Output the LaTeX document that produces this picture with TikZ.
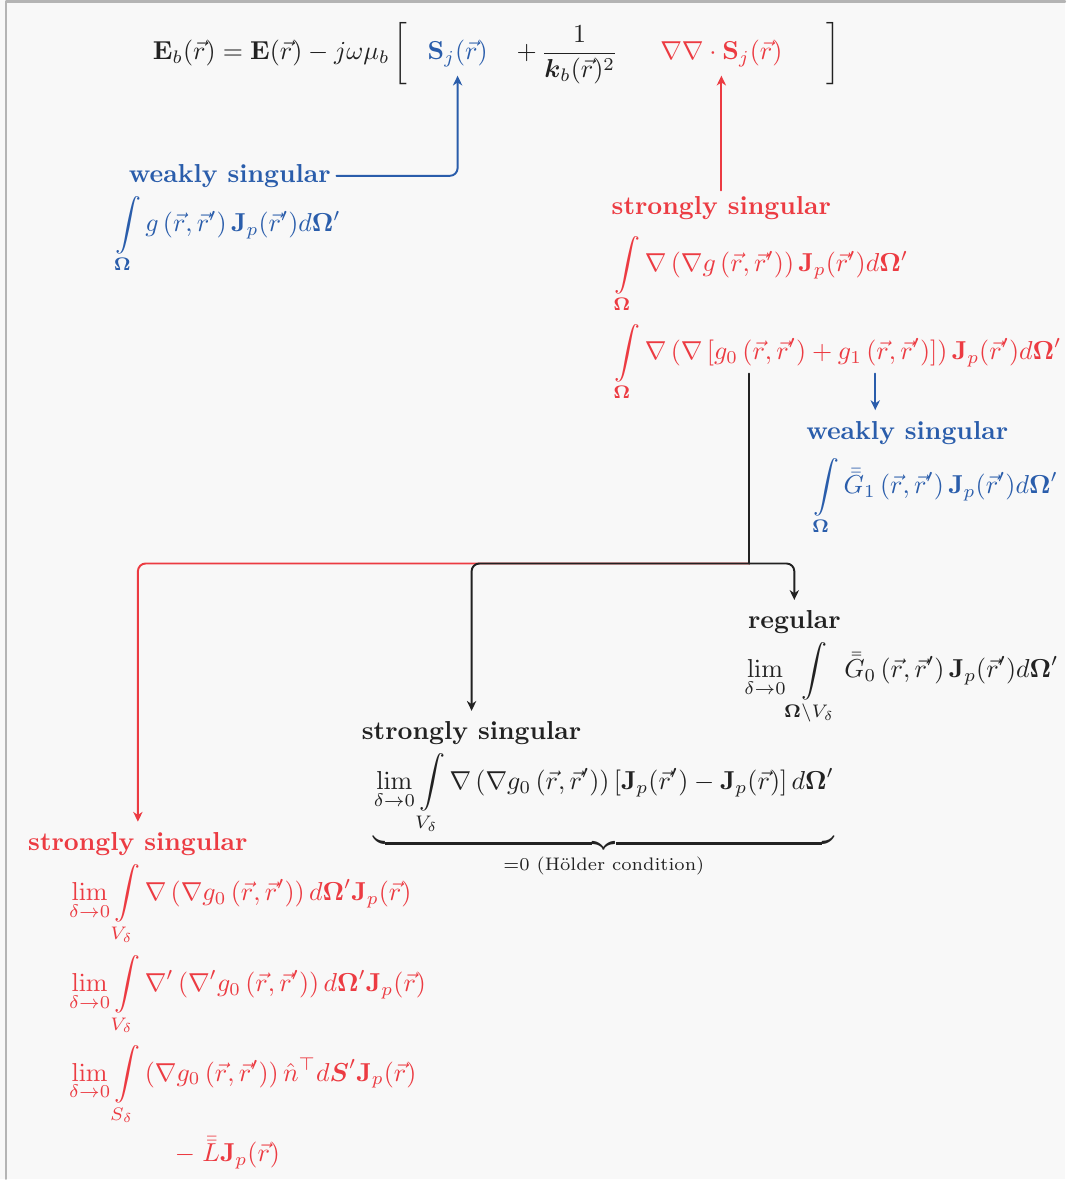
\documentclass[tikz,border=0pt]{standalone}
\usepackage{amsmath,amssymb}
\usepackage{xcolor}
\usepackage{tikz}
\usetikzlibrary{arrows.meta,positioning}
\definecolor{ieBlue}{HTML}{2A5DAB}
\definecolor{ieRed}{HTML}{EC3B42}
\definecolor{ieInk}{HTML}{222222}
\definecolor{iePaper}{HTML}{F8F8F8}
\definecolor{ieFrame}{HTML}{B4B4B4}
\tikzset{
  ie diagram/.style={x=0.385pt, y=-0.385pt, text=ieInk,
    line cap=round, line join=round},
  ie head/.style={font=\bfseries, inner sep=2pt},
  ie math/.style={anchor=base west, inner sep=1pt},
  ie term/.style={anchor=base, inner sep=1pt},
  ie link/.style={draw=ieInk, line width=0.75pt, rounded corners=3pt},
  ie arrow/.style={ie link, -{Stealth[length=3.8pt,width=3.6pt,inset=1.2pt]},
    shorten >=2pt}
}
\begin{document}
\begin{tikzpicture}[ie diagram]
\fill[iePaper] (0,0) rectangle (1066,1180);
\draw[ieFrame, line width=0.8pt] (6,1180) -- (6,1.5) -- (1066,1.5);
\useasboundingbox (0,0) rectangle (1066,1180);
\node[ie math] (lhs) at (150,60) {$\displaystyle \mathbf{E}_b(\vec r)=\mathbf{E}(\vec r)-j\omega\mu_b\,\bigg[$};
\node[ie term, text=ieBlue] (sj) at (458,60) {$\mathbf{S}_j(\vec r)$};
\node[ie math] (frac) at (514,60) {$\displaystyle +\,\frac{1}{\boldsymbol{k}_b(\vec r)^2}$};
\node[ie term, text=ieRed] (divs) at (722,60) {$\nabla\nabla\cdot\mathbf{S}_j(\vec r)$};
\node[ie math] (rbr) at (824,60) {$\displaystyle\bigg]$};
\node[ie head, text=ieBlue] (weak1) at (230,176) {weakly singular};
\node[ie math, text=ieBlue] (int1) at (112,232) {$\displaystyle\int\limits_{\mathbf{\Omega}} g\left(\vec r,\vec r'\right)\mathbf{J}_p(\vec r')d\mathbf{\Omega}'$};
\node[ie head, text=ieRed] (strong1) at (722,208) {strongly singular};
\node[ie math, text=ieRed] (int2) at (612,272) {$\displaystyle\int\limits_{\mathbf{\Omega}}\nabla\left(\nabla g\left(\vec r,\vec r'\right)\right)\mathbf{J}_p(\vec r')d\mathbf{\Omega}'$};
\node[ie math, text=ieRed] (int3) at (612,360) {$\displaystyle\int\limits_{\mathbf{\Omega}}\nabla\left(\nabla\left[g_0\left(\vec r,\vec r'\right)+g_1\left(\vec r,\vec r'\right)\right]\right)\mathbf{J}_p(\vec r')d\mathbf{\Omega}'$};
\coordinate (g0foot) at (750,374);
\coordinate (g1foot) at (876,374);
\node[ie head, text=ieBlue] (weak2) at (908,433) {weakly singular};
\node[ie math, text=ieBlue] (int4) at (811,494) {$\displaystyle\int\limits_{\mathbf{\Omega}}\bar{\bar{G}}_1\left(\vec r,\vec r'\right)\mathbf{J}_p(\vec r')d\mathbf{\Omega}'$};
\coordinate (split) at (750,564);
\node[ie head] (regular) at (795,623) {regular};
\node[ie math] (int5) at (742,678) {$\displaystyle\lim_{\delta\to0}\int\limits_{\mathbf{\Omega}\setminus V_\delta}\bar{\bar{G}}_0\left(\vec r,\vec r'\right)\mathbf{J}_p(\vec r')d\mathbf{\Omega}'$};
\node[ie head] (strong2) at (472,734) {strongly singular};
\node[ie math] (int6) at (371,790) {$\displaystyle\underbrace{\lim_{\delta\to0}\int\limits_{V_\delta}\nabla\left(\nabla g_0\left(\vec r,\vec r'\right)\right)\left[\mathbf{J}_p(\vec r')-\mathbf{J}_p(\vec r)\right]d\mathbf{\Omega}'}_{\text{=0 (H\"older condition)}}$};
\node[ie head, text=ieRed] (strong3) at (138,845) {strongly singular};
\node[ie math, text=ieRed] (lim1) at (66,901) {$\displaystyle\lim_{\delta\to0}\int\limits_{V_\delta}\nabla\left(\nabla g_0\left(\vec r,\vec r'\right)\right)d\mathbf{\Omega}'\mathbf{J}_p(\vec r)$};
\node[ie math, text=ieRed] (lim2) at (66,992) {$\displaystyle\lim_{\delta\to0}\int\limits_{V_\delta}\nabla'\left(\nabla' g_0\left(\vec r,\vec r'\right)\right)d\mathbf{\Omega}'\mathbf{J}_p(\vec r)$};
\node[ie math, text=ieRed] (lim3) at (66,1082) {$\displaystyle\lim_{\delta\to0}\int\limits_{S_\delta}\left(\nabla g_0\left(\vec r,\vec r'\right)\right)\hat n^{\top}d\boldsymbol{S}'\mathbf{J}_p(\vec r)$};
\node[ie math, text=ieRed] (lim4) at (172,1163) {$-\;\bar{\bar{L}}\mathbf{J}_p(\vec r)$};
\draw[ie arrow, draw=ieBlue] (weak1.east) -| (sj.south);
\draw[ie arrow, draw=ieRed] (strong1.north) -- (strong1.north |- divs.south);
\draw[ie arrow, draw=ieBlue] (g1foot) -- (g1foot |- weak2.north);
\draw[ie arrow, draw=ieRed] (split) -| (strong3.north);
\draw[ie link] (g0foot) -- (split);
\draw[ie arrow] (split) -| (strong2.north);
\draw[ie arrow] (split) -| (regular.north);
\end{tikzpicture}
\end{document}
